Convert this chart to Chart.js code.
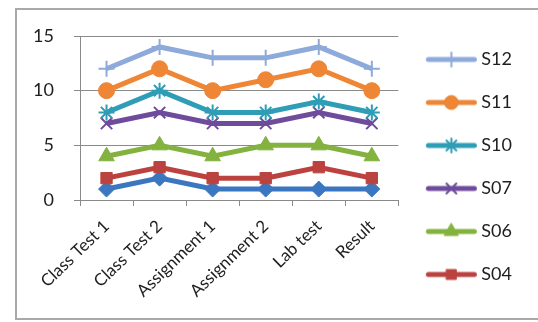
<!DOCTYPE html>
<html>
<head>
<meta charset="utf-8">
<script src="https://cdn.jsdelivr.net/npm/chart.js@4/dist/chart.umd.min.js"></script>
<style>
  html, body { margin: 0; padding: 0; background: #ffffff; }
  #wrap { position: relative; width: 538px; height: 322px; overflow: hidden; }
  #frame { position: absolute; left: 15px; top: 8px; width: 540px; height: 312px;
           border: 2px solid #a9a9a9; box-sizing: border-box; }
  canvas { position: absolute; left: 0; top: 0; }
</style>
</head>
<body>
<div id="wrap">
  <div id="frame"></div>
  <canvas id="c" width="538" height="322"></canvas>
</div>
<script>
// Marks per student across the six assessments
const categories = ['Class Test 1', 'Class Test 2', 'Assignment 1', 'Assignment 2', 'Lab test', 'Result'];
const s12 = [12, 14, 13, 13, 14, 12];
const s11 = [10, 12, 10, 11, 12, 10];
const s10 = [8, 10, 8, 8, 9, 8];
const s07 = [7, 8, 7, 7, 8, 7];
const s06 = [4, 5, 4, 5, 5, 4];
const s04 = [2, 3, 2, 2, 3, 2];
const s01 = [1, 2, 1, 1, 1, 1];
const yTicks = [0, 5, 10, 15];

const FONT = 'Lato, "Open Sans", sans-serif';

const series = [
  { label: 'S12', data: s12, color: '#8eaadb', style: 'cross',    radius: 8, pbw: 2 },
  { label: 'S11', data: s11, color: '#ee8636', style: 'circle',   radius: 8, pbw: 1 },
  { label: 'S10', data: s10, color: '#2e9db5', style: 'star',     radius: 8, pbw: 2 },
  { label: 'S07', data: s07, color: '#6f4b9c', style: 'crossRot', radius: 8, pbw: 2 },
  { label: 'S06', data: s06, color: '#84b23f', style: 'triangle', radius: 9, pbw: 1 },
  { label: 'S04', data: s04, color: '#bb423f', style: 'rect',     radius: 8, pbw: 1 },
  { label: 'S01', data: s01, color: '#3b77c0', style: 'rectRot',  radius: 8, pbw: 1 }
];

// Legend swatch: a short line with the series marker on it.
// The image is centred on the legend box, so the line sits right of centre.
function swatch(s) {
  const cv = document.createElement('canvas');
  cv.width = 120; cv.height = 20;
  const ctx = cv.getContext('2d');
  ctx.strokeStyle = s.color;
  ctx.lineWidth = 5;
  ctx.lineCap = 'round';
  ctx.beginPath(); ctx.moveTo(40.5, 10); ctx.lineTo(86.5, 10); ctx.stroke();
  ctx.fillStyle = s.color;
  ctx.strokeStyle = s.color;
  ctx.lineWidth = s.pbw;
  Chart.helpers.drawPoint(ctx, { pointStyle: s.style, radius: s.radius - 1, borderWidth: s.pbw, rotation: 0 }, 63.5, 10);
  return cv;
}

const datasets = series.map((s, i) => ({
  label: s.label,
  data: s.data,
  borderColor: s.color,
  backgroundColor: s.color,
  borderWidth: 5,
  pointStyle: s.style,
  pointRadius: s.radius,
  pointBorderWidth: s.pbw,
  pointBackgroundColor: s.color,
  pointBorderColor: s.color,
  tension: 0,
  order: i,
  swatch: swatch(s)
}));

// Lift the legend column a little above the centre of its box
const legendLift = {
  id: 'legendLift',
  afterLayout(chart) {
    if (chart.legend) { chart.legend.top -= 12; chart.legend.bottom -= 12; }
  }
};

new Chart(document.getElementById('c'), {
  type: 'line',
  data: { labels: categories, datasets: datasets },
  plugins: [legendLift],
  options: {
    responsive: false,
    animation: false,
    layout: { padding: { top: 36, right: 16, bottom: 0, left: 0 } },
    plugins: {
      tooltip: { enabled: false },
      legend: {
        position: 'right',
        align: 'center',
        labels: {
          usePointStyle: true,
          pointStyleWidth: 49,
          boxHeight: 18,
          padding: 25,
          color: '#1e1e1e',
          font: { family: FONT, size: 18 },
          generateLabels(chart) {
            return chart.data.datasets
              .map((d, i) => ({
                text: d.label,
                pointStyle: d.swatch,
                fillStyle: d.borderColor,
                strokeStyle: d.borderColor,
                lineWidth: 0,
                hidden: false,
                datasetIndex: i,
                fontColor: '#1e1e1e'
              }))
              .filter(l => l.text !== 'S01');
          }
        }
      }
    },
    scales: {
      x: {
        offset: true,
        afterFit(scale) { scale.height = 122; },
        grid: { offset: true, drawOnChartArea: false, color: '#8a8a8a', tickLength: 6, lineWidth: 1 },
        border: { color: '#8a8a8a', width: 1 },
        ticks: {
          autoSkip: false,
          minRotation: 44, maxRotation: 44,
          padding: 10,
          color: '#1e1e1e',
          font: { family: FONT, size: 17 }
        }
      },
      y: {
        min: 0, max: 15,
        afterFit(scale) { scale.width = 80; },
        afterBuildTicks(scale) { scale.ticks = yTicks.map(v => ({ value: v })); },
        grid: { color: '#8a8a8a', tickLength: 6, lineWidth: 1 },
        border: { color: '#8a8a8a', width: 1 },
        ticks: {
          padding: 20,
          color: '#1e1e1e',
          font: { family: FONT, size: 18 }
        }
      }
    }
  }
});
</script>
</body>
</html>
